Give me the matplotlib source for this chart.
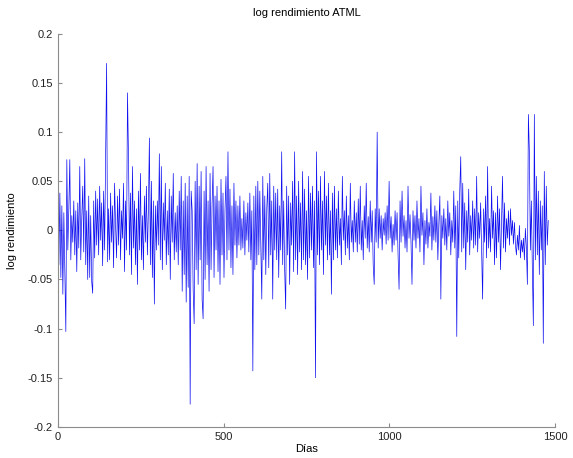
import numpy as np
import matplotlib
matplotlib.use("Agg")
import matplotlib.pyplot as plt

plt.rcParams['font.family'] = ['Liberation Sans', 'DejaVu Sans']
plt.rcParams['axes.unicode_minus'] = False

# log returns, in thousandths, one value every 3 days
step = 3
ret_milli = [
    20, -35, 38, -48, 25, -65, 18, -40, -103, 72, -20, 22, 72, -30, 15, -12, 30, -25, 20, -42,
    28, -18, 65, -30, 12, 45, -22, 73, -35, 20, -50, 35, -48, 15, -52, -64, 30, -28, 40, -15,
    32, -25, 45, -10, 28, -36, 40, -20, 78, 170, -32, 22, -30, 38, -12, 25, -38, 48, 5, -28,
    35, -15, 42, -30, 20, -8, 48, -42, 30, -20, 140, 75, -25, 38, -45, 65, -18, 30, -35, 22,
    -55, 40, -20, 58, -30, 15, -40, 35, -12, 45, -25, 20, 94, -35, 50, -48, 30, -75, 25, -20,
    30, -15, 78, -30, 65, -40, 28, -10, 48, -35, 20, -25, 42, -50, 35, -12, 58, -30, 18, -22,
    25, -35, 40, -20, 55, -62, 30, -45, 48, -73, 35, -58, 55, -177, 40, 20, -60, -95, 50, -40,
    68, -55, 45, -30, 60, -70, -90, 40, -50, 65, -35, 30, -62, 58, -40, 25, 65, -48, 35, -20,
    45, -42, 30, -55, 52, -25, 38, -48, 20, 55, -30, 80, -20, 42, -38, 25, -45, 48, -15, 30,
    -28, 25, -15, 35, -20, 12, -18, 30, -25, 18, -10, 28, -22, 38, -30, 20, -143, 35, -40, 45,
    -35, 50, -25, 40, -15, -70, 55, -30, 35, -45, 22, 48, -38, 58, -25, 30, -70, 45, -20, 38,
    -30, 42, -48, 25, -20, 80, -35, 30, -40, -80, 45, -25, 35, -55, 28, -15, 50, -42, 80, -30,
    35, -45, 50, -22, 28, -40, 60, -30, 42, -35, 20, -50, 55, -28, 38, -20, 45, -38, 30, -150,
    80, -25, 40, -35, 55, -20, 30, -45, 60, -15, 35, -30, 48, -25, 20, -65, 38, -30, 45, -20,
    22, -28, 40, -15, 12, -35, 55, -10, 20, -25, 35, -18, 15, -30, 48, -12, 10, -22, 30, -12,
    18, -22, 32, -14, 45, -20, 10, -30, 25, -8, 48, -18, 14, -22, 30, -12, 20, -35, -55, 22,
    -12, 100, -18, 22, -8, 15, -20, 12, -5, 18, -14, 25, -10, 50, -8, 14, -22, 6, -15, 20,
    -10, 18, -25, -60, 30, -12, 40, -6, 15, -18, 10, -22, 45, -8, 16, -12, -55, 20, -10, 15,
    -18, 30, -8, 12, -22, 45, -5, 18, -35, 10, -14, 22, -18, 8, -6, 38, -20, 14, -10, 25,
    -12, 20, -30, 8, 35, -70, 15, -8, 22, -15, 12, -20, 30, -6, 18, -25, 10, -12, 40, -18,
    25, -108, 30, -28, 40, 75, -22, 48, -18, 28, -40, 20, -12, 42, -25, 15, -10, 30, -18, 22,
    -15, 55, -22, 18, -8, 28, -20, -70, 22, -12, 35, -28, 65, -18, 12, -22, 45, -8, 20, -35,
    18, -28, 35, -12, 22, -40, 10, 55, -18, 28, -22, 12, -8, 20, -15, 22, -5, 10, -14, 8,
    -15, -25, -5, -20, 5, -28, -10, -22, -8, -30, 2, -18, -55, 118, 80, -20, 30, -40, -97, 118,
    -30, 55, -25, 40, -45, 30, -20, 25, -115, 60, -35, 45, -15, 10,
]

log_ret = np.array(ret_milli) / 1000.0
dias = np.arange(len(log_ret)) * step

fig = plt.figure(figsize=(5.73, 4.58), dpi=100)
ax = fig.add_axes([0.101, 0.068, 0.868, 0.858])

ax.plot(dias, log_ret, color='#1010f0', linewidth=0.5)

ax.set_xlim(0, 1500)
ax.set_ylim(-0.2, 0.2)
ax.set_xticks([0, 500, 1000, 1500])
ax.set_yticks(np.arange(-0.2, 0.2001, 0.05))
ax.set_yticklabels(['-0.2', '-0.15', '-0.1', '-0.05', '0', '0.05', '0.1', '0.15', '0.2'])

for s in ['top', 'right']:
    ax.spines[s].set_visible(False)
for s in ['left', 'bottom']:
    ax.spines[s].set_color('#8c8c8c')
    ax.spines[s].set_linewidth(0.8)
ax.tick_params(direction='in', length=3, color='#8c8c8c', labelsize=8, labelcolor='#222222')

ax.set_title('log rendimiento ATML', fontsize=8, pad=13)
ax.set_xlabel('Días', fontsize=8, labelpad=2)
ax.set_ylabel('log rendimiento', fontsize=8, labelpad=8)

fig.savefig('out.png', dpi=100)
